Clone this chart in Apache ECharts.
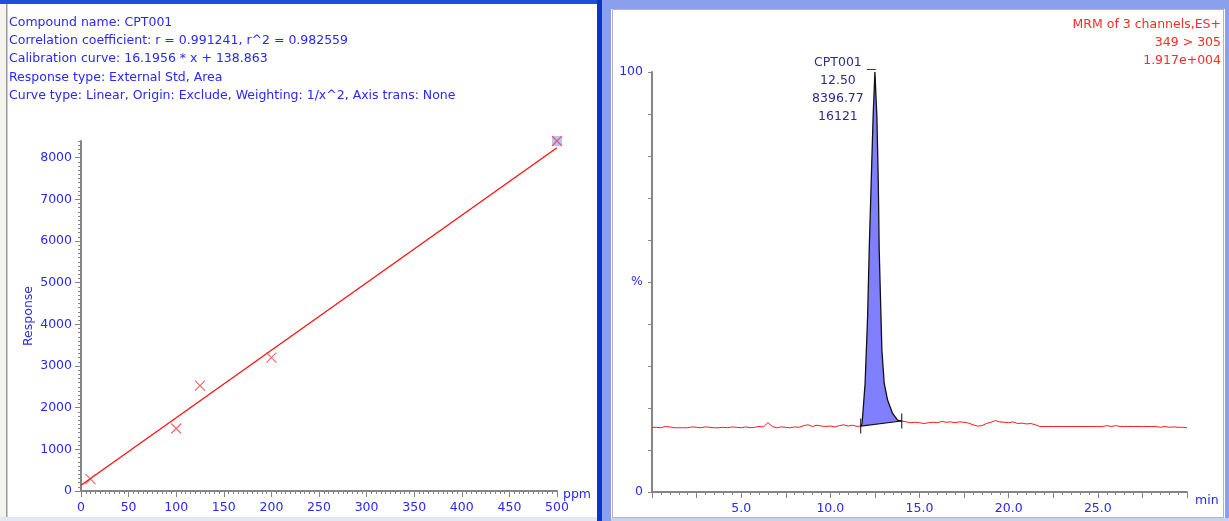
<!DOCTYPE html>
<html>
<head>
<meta charset="utf-8">
<script src="https://cdn.jsdelivr.net/npm/echarts@6/dist/echarts.min.js"></script>
<style>
html,body{margin:0;padding:0;background:#fff;}
#chart{width:1229px;height:521px;}
</style>
</head>
<body>
<div id="chart"></div>
<script>
// ---------- Calibration data ----------
const infoLines = [
  'Compound name: CPT001',
  'Correlation coefficient: r = 0.991241, r^2 = 0.982559',
  'Calibration curve: 16.1956 * x + 138.863',
  'Response type: External Std, Area',
  'Curve type: Linear, Origin: Exclude, Weighting: 1/x^2, Axis trans: None'
];
const calibConc = [10, 100, 125, 200, 500];
const calibResponse = [285, 1500, 2530, 3200, 8400];
const selectedIndex = 4;
const fitSlope = 16.1956;
const fitIntercept = 138.863;
const fitRange = [0, 500];
const calibXTicks = [0, 50, 100, 150, 200, 250, 300, 350, 400, 450, 500];
const calibYTicks = [0, 1000, 2000, 3000, 4000, 5000, 6000, 7000, 8000];

// ---------- Chromatogram data ----------
const headerLines = ['MRM of 3 channels,ES+', '349 > 305', '1.917e+004'];
const peakInfo = ['CPT001', '12.50', '8396.77', '16121'];
const traceTimes = [
  0, 0.25, 0.5, 0.75, 1.0, 1.25, 1.5, 1.75, 2.0, 2.25, 2.5, 2.75, 3.0, 3.25, 3.5, 3.75,
  4.0, 4.25, 4.5, 4.75, 5.0, 5.25, 5.5, 5.75, 6.0, 6.25, 6.5, 6.75, 7.0, 7.25, 7.5, 7.75,
  8.0, 8.25, 8.5, 8.75, 9.0, 9.25, 9.5, 9.75, 10.0, 10.25, 10.5, 10.75, 11.0, 11.25, 11.5,
  11.70, 11.78, 11.88, 11.95, 12.09, 12.18, 12.29, 12.40, 12.50, 12.61, 12.69, 12.74, 12.84,
  12.89, 13.02, 13.21, 13.49, 13.77, 14.00,
  14.25, 14.5, 14.75, 15.0, 15.25, 15.5, 15.75, 16.0, 16.25, 16.5, 16.75, 17.0, 17.25, 17.5,
  17.75, 18.0, 18.25, 18.5, 18.75, 19.0, 19.25, 19.5, 19.75, 20.0, 20.25, 20.5, 20.75, 21.0,
  21.25, 21.5, 21.75, 22.0, 22.5, 23.0, 23.5, 24.0, 24.5, 25.0, 25.25, 25.5, 25.75, 26.0,
  26.25, 26.5, 27.0, 27.5, 28.0, 28.25, 28.5, 28.75, 29.0, 29.25, 29.5, 29.75, 30.0
];
const traceValues = [
  15.4, 15.4, 15.3, 15.6, 15.5, 15.3, 15.3, 15.3, 15.3, 15.5, 15.4, 15.3, 15.5, 15.4, 15.3, 15.3,
  15.4, 15.3, 15.5, 15.4, 15.3, 15.5, 15.3, 15.4, 15.6, 15.5, 16.5, 15.6, 15.3, 15.5, 15.4, 15.3,
  15.5, 15.4, 15.8, 16.0, 15.6, 15.9, 15.7, 15.6, 15.7, 15.5, 15.8, 16.0, 15.7, 15.9, 15.6,
  15.7, 16.3, 21.9, 25.9, 41.7, 57.6, 73.5, 89.4, 100, 89.4, 73.5, 57.6, 41.7,
  33.8, 25.9, 21.9, 18.7, 17.1, 16.9,
  16.7, 16.5, 16.6, 16.5, 16.3, 16.5, 16.6, 16.5, 16.8, 16.6, 16.7, 16.5, 16.7, 16.6,
  16.4, 16.0, 15.7, 15.8, 16.3, 16.6, 17.0, 16.7, 16.6, 16.5, 16.7, 16.3, 16.4, 16.2,
  16.3, 16.0, 15.6, 15.6, 15.6, 15.6, 15.6, 15.6, 15.6, 15.6, 15.6, 15.8, 15.6, 15.8,
  15.6, 15.6, 15.6, 15.6, 15.6, 15.6, 15.4, 15.6, 15.4, 15.5, 15.4, 15.4, 15.3
];
const peakStart = 11.70;
const peakEnd = 14.00;
const rtXLabels = [5, 10, 15, 20, 25];
const pctLabels = [0, 50, 100];

// ---------- Derived ----------
const calibPoints = calibConc.map((c, i) => [c, calibResponse[i]]);
const fitLine = fitRange.map(x => [x, fitSlope * x + fitIntercept]);
const before = [], after = [], peakPts = [];
traceTimes.forEach((t, i) => {
  if (t <= peakStart) before.push([t, traceValues[i]]);
  if (t >= peakEnd) after.push([t, traceValues[i]]);
  if (t >= peakStart && t <= peakEnd) peakPts.push([t, traceValues[i]]);
});
const baseStart = peakPts[0], baseEnd = peakPts[peakPts.length - 1];
let apex = peakPts[0]; peakPts.forEach(p => { if (p[1] > apex[1]) apex = p; });

const FONT = 'DejaVu Sans';
const FS = 12.5;
const BLUE = '#2828ff';
const GRAY = '#858585';

const chart = echarts.init(document.getElementById('chart'), null, {renderer: 'canvas'});
chart.setOption({
  animation: false,
  backgroundColor: '#ffffff',
  textStyle: {fontFamily: FONT},
  title: [
    {text: infoLines.join('\n'), left: 9, top: 13.6, padding: 0,
     textStyle: {color: BLUE, fontSize: FS, fontWeight: 'normal', fontFamily: FONT, lineHeight: 18.2}}
  ],
  graphic: [
    {type: 'rect', shape: {x: 0, y: 0, width: 600, height: 4}, style: {fill: '#1c4ed6'}, silent: true},
    {type: 'rect', shape: {x: 0, y: 4, width: 6, height: 517}, style: {fill: '#f4f3ee'}, silent: true},
    {type: 'rect', shape: {x: 6, y: 4, width: 1.5, height: 517}, style: {fill: '#9a9a9a'}, silent: true},
    {type: 'rect', shape: {x: 0, y: 517, width: 598, height: 4}, style: {fill: '#e4e8f2'}, silent: true},
    {type: 'rect', shape: {x: 597, y: 0, width: 5, height: 521}, style: {fill: '#0a36c8'}, silent: true},
    {type: 'rect', shape: {x: 602, y: 0, width: 9, height: 521}, style: {fill: '#8aa0ea'}, silent: true},
    {type: 'rect', shape: {x: 602, y: 0, width: 627, height: 9}, style: {fill: '#8aa0ea'}, silent: true},
    {type: 'rect', shape: {x: 1225, y: 0, width: 4, height: 521}, style: {fill: '#8aa0ea'}, silent: true},
    {type: 'rect', shape: {x: 611, y: 518, width: 618, height: 3}, style: {fill: '#c8d2f2'}, silent: true},
    {type: 'rect', shape: {x: 612.5, y: 9.5, width: 611, height: 508},
     style: {fill: null, stroke: '#6a6a6a', lineWidth: 1, lineDash: [1, 1]}, silent: true},
    {type: 'text', x: 1221, y: 15.5, silent: true,
     style: {text: headerLines.join('\n'), fill: '#ff2a2a', font: FS + 'px "' + FONT + '"',
       lineHeight: 18.2, align: 'right', verticalAlign: 'top'}}
  ],
  grid: [
    {left: 81, right: 672, top: 141, bottom: 30},
    {left: 652, right: 42, top: 72, bottom: 29}
  ],
  xAxis: [
    {gridIndex: 0, type: 'value', position: 'bottom', min: 0, max: 500, interval: 5,
     axisLine: {show: true, lineStyle: {color: GRAY, width: 2}},
     axisTick: {show: true, length: 3, lineStyle: {color: GRAY, width: 1}},
     axisLabel: {show: false}, splitLine: {show: false}},
    {gridIndex: 0, type: 'value', position: 'bottom', min: 0, max: 500, interval: 50,
     axisLine: {show: false},
     axisTick: {show: true, length: 6, lineStyle: {color: GRAY, width: 1}},
     axisLabel: {show: true, color: BLUE, fontSize: FS, fontFamily: FONT, margin: 10,
       customValues: calibXTicks, formatter: v => String(v)},
     splitLine: {show: false},
     name: 'ppm', nameLocation: 'end', nameGap: 6, nameMoveOverlap: false,
     nameTextStyle: {color: BLUE, fontSize: FS, fontFamily: FONT, verticalAlign: 'top', lineHeight: 8}},
    {gridIndex: 1, type: 'value', position: 'bottom', min: 0, max: 30, interval: 0.5,
     axisLine: {show: true, lineStyle: {color: GRAY, width: 2}},
     axisTick: {show: true, length: 3, lineStyle: {color: GRAY, width: 1}},
     axisLabel: {show: false}, splitLine: {show: false}},
    {gridIndex: 1, type: 'value', position: 'bottom', min: 0, max: 30, interval: 2.5,
     axisLine: {show: false},
     axisTick: {show: true, length: 6, lineStyle: {color: GRAY, width: 1}},
     axisLabel: {show: true, color: BLUE, fontSize: FS, fontFamily: FONT, margin: 10,
       customValues: rtXLabels, formatter: v => v.toFixed(1)},
     splitLine: {show: false},
     name: 'min', nameLocation: 'end', nameGap: 8, nameMoveOverlap: false,
     nameTextStyle: {color: BLUE, fontSize: FS, fontFamily: FONT, verticalAlign: 'top', lineHeight: 18}}
  ],
  yAxis: [
    {gridIndex: 0, type: 'value', position: 'left', min: 0, max: 8400, interval: 100,
     axisLine: {show: true, lineStyle: {color: GRAY, width: 2}},
     axisTick: {show: true, length: 3, lineStyle: {color: GRAY, width: 1}},
     axisLabel: {show: false}, splitLine: {show: false}},
    {gridIndex: 0, type: 'value', position: 'left', min: 0, max: 8400, interval: 1000,
     axisLine: {show: false},
     axisTick: {show: true, length: 6, customValues: calibYTicks, lineStyle: {color: GRAY, width: 1}},
     axisLabel: {show: true, color: BLUE, fontSize: FS, fontFamily: FONT, margin: 9,
       customValues: calibYTicks, formatter: v => String(v)},
     splitLine: {show: false},
     name: 'Response', nameLocation: 'middle', nameGap: 46, nameRotate: 90,
     nameTextStyle: {color: BLUE, fontSize: FS, fontFamily: FONT}},
    {gridIndex: 1, type: 'value', position: 'left', min: 0, max: 100, interval: 10,
     axisLine: {show: true, lineStyle: {color: GRAY, width: 2}},
     axisTick: {show: true, length: 4, lineStyle: {color: GRAY, width: 1}},
     axisLabel: {show: true, color: BLUE, fontSize: FS, fontFamily: FONT, margin: 9,
       customValues: pctLabels, formatter: v => (v === 50 ? '%' : String(v))},
     splitLine: {show: false}}
  ],
  series: [
    {type: 'line', xAxisIndex: 1, yAxisIndex: 1, data: fitLine, symbol: 'none',
     lineStyle: {color: '#ff1010', width: 1.3}, z: 3},
    {type: 'scatter', xAxisIndex: 1, yAxisIndex: 1, data: [calibPoints[selectedIndex]],
     symbol: 'rect', symbolSize: 10, itemStyle: {color: '#aab4f6'}, z: 4},
    {type: 'scatter', xAxisIndex: 1, yAxisIndex: 1, data: calibPoints,
     symbol: 'path://M0,0L10,10M10,0L0,10', symbolSize: 10,
     itemStyle: {color: 'rgba(0,0,0,0)', borderColor: '#f03c3c', borderWidth: 1.1}, z: 5},
    // chromatogram trace
    {type: 'line', xAxisIndex: 3, yAxisIndex: 2, data: before, symbol: 'none',
     lineStyle: {color: '#ff1a1a', width: 1}, z: 3},
    {type: 'line', xAxisIndex: 3, yAxisIndex: 2, data: after, symbol: 'none',
     lineStyle: {color: '#ff1a1a', width: 1}, z: 3},
    // integrated peak area (between trace and integration baseline)
    {type: 'custom', xAxisIndex: 3, yAxisIndex: 2, data: peakPts, z: 3, silent: true,
     renderItem: (params, api) => {
       if (params.dataIndex !== 0) return null;
       const pts = peakPts.map(p => api.coord(p));
       return {type: 'polygon', shape: {points: pts}, style: {fill: '#8080ff', stroke: null}};
     }},
    // peak outline
    {type: 'line', xAxisIndex: 3, yAxisIndex: 2, data: peakPts, symbol: 'none',
     lineStyle: {color: '#111111', width: 1.3}, z: 4,
     markPoint: {symbol: 'circle', symbolSize: 0, silent: true,
       data: [{coord: apex, value: 0}],
       label: {show: true, position: 'inside', offset: [-37, 17.8], align: 'center', verticalAlign: 'middle',
         formatter: peakInfo.join('\n'), color: '#2c2c8c', fontSize: FS, fontFamily: FONT, lineHeight: 18.2}}},
    // integration baseline and limit marks
    {type: 'line', xAxisIndex: 3, yAxisIndex: 2, data: [baseStart, baseEnd], symbol: 'none',
     lineStyle: {color: '#111111', width: 1.2}, z: 5},
    {type: 'scatter', xAxisIndex: 3, yAxisIndex: 2, data: [baseStart, baseEnd],
     symbol: 'rect', symbolSize: [1.3, 15], itemStyle: {color: '#111111'}, z: 6},
    // label leader tick at apex
    {type: 'line', xAxisIndex: 3, yAxisIndex: 2, clip: false,
     data: [[apex[0] - 0.45, apex[1] + 0.6], [apex[0] + 0.05, apex[1] + 0.6]], symbol: 'none',
     lineStyle: {color: '#2c2c8c', width: 1}, z: 6}
  ]
});
</script>
</body>
</html>
